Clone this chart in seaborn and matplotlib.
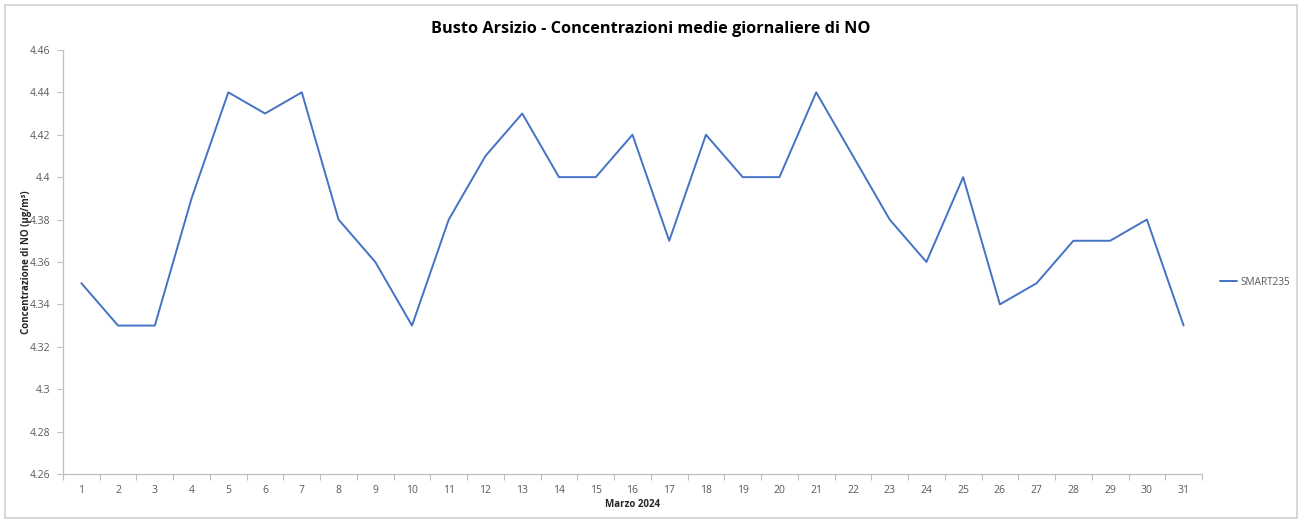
import matplotlib
matplotlib.use("Agg")
import matplotlib.pyplot as plt
from matplotlib.patches import Rectangle
from matplotlib.lines import Line2D
from matplotlib.ticker import FixedLocator, FuncFormatter
import seaborn as sns
import pandas as pd

giorni = list(range(1, 32))
smart235 = [4.35, 4.33, 4.33, 4.39, 4.44, 4.43, 4.44, 4.38, 4.36, 4.33,
            4.38, 4.41, 4.43, 4.40, 4.40, 4.42, 4.37, 4.42, 4.40, 4.40,
            4.44, 4.41, 4.38, 4.36, 4.40, 4.34, 4.35, 4.37, 4.37, 4.38,
            4.33]
yticks = [4.26, 4.28, 4.30, 4.32, 4.34, 4.36, 4.38, 4.40, 4.42, 4.44, 4.46]

df = pd.DataFrame({"giorno": giorni, "valore": smart235, "serie": "SMART235"})

sns.set_style("white")
plt.rcParams["font.family"] = ["Open Sans", "DejaVu Sans"]

fig = plt.figure(figsize=(13.01, 5.21), dpi=100)
ax = fig.add_axes([0.0484, 0.0902, 0.8755, 0.814])

sns.lineplot(data=df, x="giorno", y="valore", hue="serie",
             palette=["#4472C4"], linewidth=1.4, ax=ax, legend=False)

ax.set_xlim(0.5, 31.5)
ax.set_ylim(4.26, 4.46)
ax.set_yticks(yticks)
ax.yaxis.set_major_formatter(FuncFormatter(lambda v, p: "%g" % round(v, 2)))

# excel-style category axis: ticks between categories, labels centered
ax.xaxis.set_major_locator(FixedLocator([g - 0.5 for g in giorni] + [31.5]))
ax.xaxis.set_major_formatter(FuncFormatter(lambda v, p: ""))
ax.xaxis.set_minor_locator(FixedLocator(giorni))
ax.xaxis.set_minor_formatter(FuncFormatter(lambda v, p: str(int(round(v)))))

grigio = "#bfbfbf"
for s in ["top", "right"]:
    ax.spines[s].set_visible(False)
for s in ["left", "bottom"]:
    ax.spines[s].set_color(grigio)
    ax.spines[s].set_linewidth(0.9)

ax.tick_params(axis="y", which="major", direction="out", length=4, width=0.8,
               color=grigio, labelcolor="#595959", labelsize=7.5, pad=5, left=True)
ax.tick_params(axis="x", which="major", direction="out", length=4, width=0.8,
               color=grigio, bottom=True)
ax.tick_params(axis="x", which="minor", length=0, labelcolor="#595959",
               labelsize=7.5, pad=8, bottom=True)

ax.set_xlabel("Marzo 2024", fontsize=7, fontweight="bold", color="#262626", labelpad=2)
ax.set_ylabel("Concentrazione di NO (µg/m³)", fontsize=7, fontweight="bold",
              color="#262626")
ax.yaxis.set_label_coords(-0.027, 0.5)
fig.suptitle("Busto Arsizio - Concentrazioni medie giornaliere di NO",
             fontsize=11.7, fontweight="bold", color="#000000", y=0.96)

handle = Line2D([], [], color="#4472C4", linewidth=1.4)
fig.legend([handle], ["SMART235"], loc="center left",
           bbox_to_anchor=(0.931, 0.458), frameon=False, fontsize=7.2,
           handlelength=1.7, handletextpad=0.3, labelcolor="#595959")

fig.patches.append(Rectangle((0.004, 0.006), 0.993, 0.985, transform=fig.transFigure,
                             fill=False, edgecolor="#d0d0d0", linewidth=1.2))

fig.savefig("out.png", dpi=100)
